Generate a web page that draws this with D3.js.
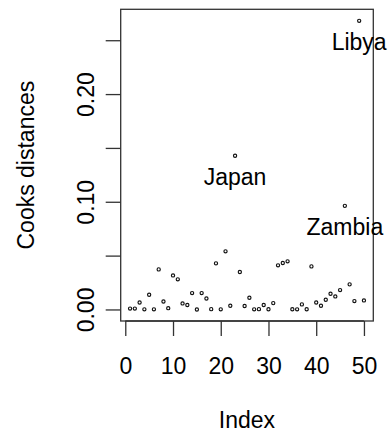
<!DOCTYPE html>
<html>
<head>
<meta charset="utf-8">
<script src="https://cdn.jsdelivr.net/npm/d3@7"></script>
<style>
  html, body { margin: 0; padding: 0; background: #fff; }
  svg { display: block; }
  text { font-family: "Liberation Sans", Arial, Helvetica, sans-serif; fill: #000; }
</style>
</head>
<body>
<svg id="chart" width="389" height="434"></svg>
<script>
// Cook's distance for each observation of the savings regression (1..50)
const obsIndex = d3.range(1, 51);
const cooksD = [
  0.0008, 0.0008, 0.0065, 0.0001, 0.0137, 0.0001, 0.0372, 0.0074, 0.0012, 0.0316,
  0.0280, 0.0056, 0.0041, 0.0152, 0.0000, 0.0152, 0.0102, 0.0003, 0.0428, 0.0001,
  0.0540, 0.0034, 0.1427, 0.0348, 0.0032, 0.0109, 0.0001, 0.0003, 0.0041, 0.0002,
  0.0059, 0.0410, 0.0431, 0.0447, 0.0002, 0.0001, 0.0047, 0.0002, 0.0400, 0.0065,
  0.0034, 0.0090, 0.0146, 0.0121, 0.0180, 0.0962, 0.0233, 0.0078, 0.2680, 0.0084
];
// the three most influential observations get a name
const labelIndex = [23, 46, 49];
const labelNames = ["Japan", "Zambia", "Libya"];

const xTicks = [0, 10, 20, 30, 40, 50];
const yTicks = [0, 0.05, 0.10, 0.15, 0.20, 0.25];
const yTickLabels = ["0.00", "", "0.10", "", "0.20", ""];

const svg = d3.select("#chart");
const fontSize = 23;

// plot region (4% padding on both axes, as in base graphics)
const plot = { left: 120.7, right: 373.3, top: 9.3, bottom: 321 };
const xExt = d3.extent(obsIndex), xPad = (xExt[1] - xExt[0]) * 0.04;
const yExt = [0, d3.max(cooksD)], yPad = (yExt[1] - yExt[0]) * 0.04;

const x = d3.scaleLinear()
  .domain([xExt[0] - xPad, xExt[1] + xPad])
  .range([plot.left, plot.right]);
const y = d3.scaleLinear()
  .domain([yExt[0] - yPad, yExt[1] + yPad])
  .range([plot.bottom, plot.top]);

const ink = "#333";

// x axis
const xAxis = svg.append("g")
  .attr("transform", `translate(0,${plot.bottom})`)
  .call(d3.axisBottom(x).tickValues(xTicks).tickSize(15).tickPadding(22).tickFormat(d3.format("d")));
xAxis.select(".domain").remove();
xAxis.append("line")
  .attr("x1", x(xTicks[0])).attr("x2", x(xTicks[xTicks.length - 1]))
  .attr("stroke", ink).attr("stroke-width", 1.3);
xAxis.selectAll(".tick line").attr("stroke", ink).attr("stroke-width", 1.3);
xAxis.selectAll(".tick text")
  .attr("font-size", fontSize)
  .attr("font-family", "Liberation Sans, Arial, sans-serif")
  .attr("fill", "#000");

// y axis with labels rotated parallel to the axis
const yAxis = svg.append("g")
  .attr("transform", `translate(${plot.left},0)`)
  .call(d3.axisLeft(y).tickValues(yTicks).tickSize(15).tickFormat((d, i) => yTickLabels[i]));
yAxis.select(".domain").remove();
yAxis.selectAll(".tick line").attr("stroke", ink).attr("stroke-width", 1.3);
yAxis.selectAll(".tick text")
  .attr("font-size", fontSize)
  .attr("font-family", "Liberation Sans, Arial, sans-serif")
  .attr("fill", "#000")
  .attr("x", null).attr("dy", null)
  .attr("text-anchor", "middle")
  .attr("transform", "translate(-27,0) rotate(-90)");

// plot frame
svg.append("rect")
  .attr("x", plot.left).attr("y", plot.top)
  .attr("width", plot.right - plot.left).attr("height", plot.bottom - plot.top)
  .attr("fill", "none").attr("stroke", ink).attr("stroke-width", 1.3);

// points
svg.append("g").selectAll("circle")
  .data(obsIndex)
  .join("circle")
  .attr("cx", (d) => x(d))
  .attr("cy", (d, i) => y(cooksD[i]))
  .attr("r", 1.6)
  .attr("fill", "none")
  .attr("stroke", "#111")
  .attr("stroke-width", 1.15);

// names of the influential points, centred under each point
svg.append("g").selectAll("text")
  .data(labelIndex)
  .join("text")
  .attr("x", (d) => x(d))
  .attr("y", (d) => y(cooksD[d - 1]) + 29.5)
  .attr("text-anchor", "middle")
  .attr("font-size", fontSize)
  .text((d, i) => labelNames[i]);

// axis titles
svg.append("text")
  .attr("x", (plot.left + plot.right) / 2)
  .attr("y", 428)
  .attr("text-anchor", "middle")
  .attr("font-size", fontSize)
  .text("Index");

svg.append("text")
  .attr("transform", `translate(33.5,${(plot.top + plot.bottom) / 2}) rotate(-90)`)
  .attr("text-anchor", "middle")
  .attr("font-size", fontSize)
  .text("Cooks distances");
</script>
</body>
</html>
